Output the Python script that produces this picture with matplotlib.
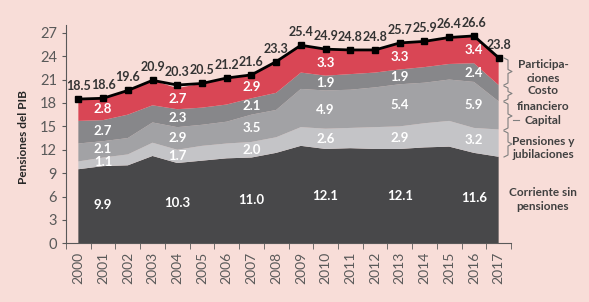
import matplotlib.pyplot as plt
import numpy as np

plt.rcParams['font.family'] = ['Lato', 'DejaVu Sans']

# Datos (% del PIB)
years = [str(y) for y in range(2000, 2018)]
corriente = [9.5, 9.9, 10.0, 11.2, 10.3, 10.6, 10.9, 11.0, 11.6, 12.5, 12.1, 12.2, 12.1, 12.1, 12.3, 12.4, 11.6, 11.1]
pensiones = [1.0, 1.1, 1.4, 1.7, 1.7, 1.9, 1.9, 2.0, 2.0, 2.4, 2.6, 2.6, 2.8, 2.9, 3.1, 3.3, 3.2, 3.5]
capital = [2.3, 2.1, 2.1, 2.6, 2.9, 2.7, 2.8, 3.5, 3.5, 4.9, 4.9, 4.9, 5.1, 5.4, 5.2, 5.3, 5.9, 3.6]
costo_fin = [2.9, 2.7, 3.0, 2.2, 2.3, 2.2, 2.2, 2.1, 2.2, 2.1, 1.9, 2.0, 1.9, 1.9, 2.0, 2.0, 2.4, 2.1]
participaciones = [2.8, 2.8, 3.1, 3.2, 2.7, 3.1, 3.4, 2.9, 4.0, 3.5, 3.3, 3.1, 2.9, 3.3, 3.3, 3.4, 3.4, 3.5]
total = [18.5, 18.6, 19.6, 20.9, 20.3, 20.5, 21.2, 21.6, 23.3, 25.4, 24.9, 24.8, 24.8, 25.7, 25.9, 26.4, 26.6, 23.8]
label_years = [1, 4, 7, 10, 13, 16]

layers = [corriente, pensiones, capital, costo_fin, participaciones]
colors = ['#48484a', '#c4c4c7', '#a2a2a5', '#87878a', '#d94655']
bg = '#f8ddd8'

W, H = 589, 302
fig = plt.figure(figsize=(W / 100, H / 100), dpi=100, facecolor=bg)
ax = fig.add_axes([66 / W, 1 - 243.3 / H, (511 - 66) / W, (243.3 - 25) / H], facecolor=bg)

x = np.arange(len(years))
ax.stackplot(x, *layers, colors=colors, linewidth=0)

# etiquetas dentro de las areas
cum = np.zeros(len(years))
for vals in layers:
    vals = np.array(vals)
    for i in label_years:
        ax.text(x[i], cum[i] + vals[i] / 2, f"{vals[i]:.1f}", ha='center', va='center',
                color='white', fontsize=9.5, fontweight='bold')
    cum += vals

# total
ax.plot(x, total, color='black', lw=2, marker='s', ms=4, zorder=5)
for i, t in enumerate(total):
    ax.text(x[i], t + 0.9, f"{t:.1f}", ha='center', va='bottom', color='#333333',
            fontsize=9, fontweight='bold')

ax.set_xlim(-0.5, len(years) - 0.5)
ax.set_ylim(0, 28)
ax.set_yticks(range(0, 28, 3))
ax.set_xticks(x)
ax.set_xticklabels(years, rotation=90)
ax.set_xticks(np.arange(-0.5, len(years)), minor=True)
ax.tick_params(axis='x', which='major', length=0, pad=6, labelsize=10, labelcolor='#595959')
ax.tick_params(axis='x', which='minor', length=4, direction='out', color='#595959')
ax.tick_params(axis='y', length=3, color='#595959', labelsize=10.5, labelcolor='#595959')
for s in ['top', 'right']:
    ax.spines[s].set_visible(False)
for s in ['left', 'bottom']:
    ax.spines[s].set_color('#595959')
    ax.spines[s].set_linewidth(0.8)

fig.text(24 / W, 1 - 137 / H, 'Pensiones del PIB', rotation=90, ha='center', va='center',
         fontsize=8.5, fontweight='bold', color='#262626')


# llaves de la leyenda (coordenadas en pixeles)
def brace(y0, y1, x0=504, w=8):
    ym = (y0 + y1) / 2
    xs = [x0, x0 + w / 2, x0 + w / 2, x0 + w, x0 + w / 2, x0 + w / 2, x0]
    ys = [y0, y0 + 2, ym - 2, ym, ym + 2, y1 - 2, y1]
    fig.add_artist(plt.Line2D([a / W for a in xs], [1 - b / H for b in ys],
                              color='#7f7f7f', lw=0.8))


brace(58, 85)
brace(86, 101)
brace(102, 130)
brace(131, 157)
fig.add_artist(plt.Line2D([513 / W, 519 / W], [1 - 120 / H] * 2, color='#7f7f7f', lw=0.8))

legend_txt = [('Participa-', 65), ('ciones', 78), ('Costo', 91), ('financiero', 106),
              ('Capital', 120), ('Pensiones y', 141), ('jubilaciones', 155),
              ('Corriente sin', 193), ('pensiones', 206)]
for t, yy in legend_txt:
    fig.text(543 / W, 1 - yy / H, t, ha='center', va='center', fontsize=8.5,
             fontweight='bold', color='#404040')

fig.savefig('out.png', dpi=100, facecolor=bg)
